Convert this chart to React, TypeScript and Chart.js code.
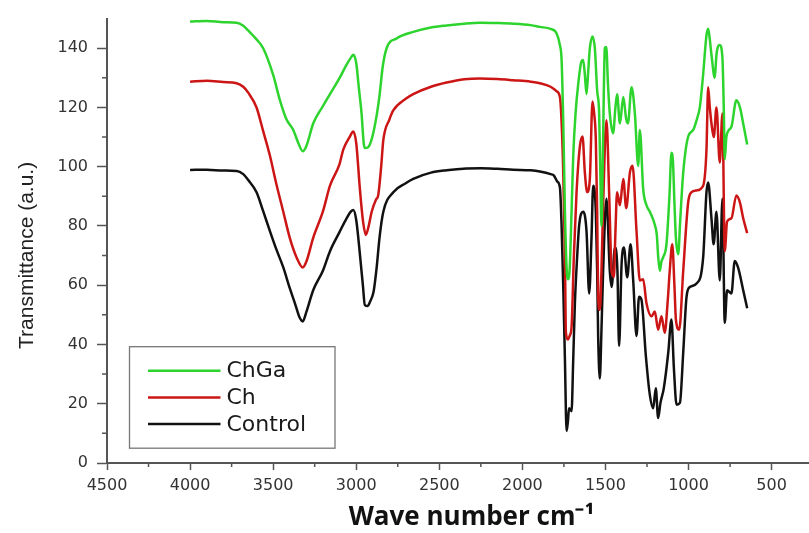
import { useEffect, useRef } from 'react';
import { Chart, registerables } from 'chart.js';

Chart.register(...registerables);

const seriesLabels = ['ChGa', 'Ch', 'Control'];
const seriesColors = ['rgb(46,212,46)', 'rgb(204,22,22)', '#111111'];

const xTickValues = [4500, 4000, 3500, 3000, 2500, 2000, 1500, 1000, 500];
const xMinorTickValues = [4250, 3750, 3250, 2750, 2250, 1750, 1250, 750];
const yMinorTickValues = [10, 30, 50, 70, 90, 110, 130];

const chgaWavenumber = [
  4000, 3900, 3800, 3720, 3680, 3650, 3600, 3560, 3500, 3459, 3420,
  3379, 3345, 3322, 3300, 3259, 3200, 3158, 3100, 3058, 3030,
  3018, 3000, 2985, 2968, 2955, 2948, 2930, 2918, 2895, 2875,
  2860, 2840, 2817, 2757, 2657, 2550, 2456, 2350, 2256, 2150,
  2055, 1950, 1895, 1830, 1794, 1774, 1764, 1754, 1744, 1734,
  1725, 1715, 1704, 1694, 1680, 1664, 1644, 1634, 1624, 1614,
  1604, 1594, 1578, 1564, 1550, 1538, 1530, 1524, 1518, 1510,
  1504, 1495, 1485, 1474, 1454, 1440, 1430, 1413, 1393, 1375,
  1365, 1343, 1323, 1303, 1293, 1273, 1253, 1233, 1203, 1191,
  1183, 1173, 1163, 1153, 1133, 1115, 1103, 1094, 1085, 1076,
  1062, 1050, 1032, 1002, 972, 950, 932, 912, 892, 882,
  872, 862, 842, 832, 812, 796, 788, 782, 772, 742,
  712, 691, 671, 647,
];
const chgaTransmittance = [
  149, 149.2, 148.8, 148.6, 147.6, 146, 143, 140, 131, 122.4, 116,
  112.4, 107.5, 105.2, 107, 114.6, 120.5, 124.5, 130, 134.5, 137,
  137.8, 135, 127, 118, 108, 106.3, 106.5, 107.5, 112, 118,
  124, 134, 140, 143.3, 145.5, 147, 147.7, 148.3, 148.6, 148.5,
  148.3, 147.8, 147.2, 146.5, 145, 141, 136, 115, 85, 66,
  62, 66, 85, 103.6, 118, 127.9, 135.6, 136, 131, 124.5,
  132, 140, 144, 140, 125.7, 118, 95, 80, 95, 125,
  140, 140.4, 128, 118, 111.3, 120, 124.5, 114.6, 123.5, 116,
  114.6, 126.8, 118, 100.3, 112.4, 92.5, 87, 84.8, 80.4, 77,
  70, 64.9, 68, 69.4, 73.8, 90, 104.7, 102, 88, 76,
  70.5, 82, 98, 110.2, 112.4, 116, 120.1, 131.2, 144.4, 146.6,
  143, 137.8, 130, 137.8, 141.1, 136.7, 120, 102.5, 110.2, 113.5,
  122.4, 120.1, 114.6, 107.5,
];

const chWavenumber = [
  4000, 3900, 3800, 3720, 3680, 3650, 3600, 3560, 3519, 3480, 3439,
  3400, 3359, 3322, 3300, 3259, 3200, 3158, 3100, 3078, 3040,
  3018, 3000, 2978, 2960, 2942, 2925, 2907, 2880, 2868, 2850,
  2837, 2800, 2777, 2700, 2657, 2550, 2456, 2350, 2256, 2150,
  2055, 1950, 1895, 1830, 1794, 1774, 1764, 1754, 1744, 1738,
  1725, 1715, 1704, 1690, 1674, 1654, 1638, 1624, 1610, 1594,
  1578, 1568, 1558, 1550, 1544, 1534, 1524, 1514, 1494, 1478,
  1463, 1449, 1440, 1430, 1413, 1393, 1375, 1353, 1337, 1313,
  1293, 1273, 1253, 1223, 1203, 1183, 1163, 1143, 1125, 1113,
  1098, 1085, 1076, 1056, 1032, 1002, 982, 952, 912, 892,
  882, 872, 862, 848, 832, 812, 796, 782, 768, 742,
  712, 691, 671, 647,
];
const chTransmittance = [
  128.7, 129, 128.6, 128.2, 127, 125, 120, 112, 103.6, 94, 84.8,
  76, 69.4, 66, 68, 76, 85, 93.6, 101, 105.8, 110,
  111.9, 108, 92.5, 82, 77, 80, 84.8, 89, 90.3, 100,
  109, 116, 119, 123, 124.5, 127, 128.4, 129.5, 129.8, 129.6,
  129.2, 128.7, 128.2, 127, 125.5, 123.5, 115, 98, 70, 44,
  41.7, 43, 46, 70, 91.4, 106.9, 110.2, 98, 91.4, 95.9,
  122, 118, 109.1, 85, 56.1, 51.7, 65, 87, 115.7, 91.4,
  64.9, 62.8, 78, 91.4, 87, 95.9, 86, 98, 100.3, 78.2,
  61.6, 62, 53.9, 49.5, 51.1, 45, 49.5, 44, 55, 64.9,
  73.8, 60, 48.4, 45, 64.9, 88.1, 91.4, 92, 93.6, 105.8,
  126.8, 120, 114.6, 110, 120, 101.4, 118, 71.5, 81.5, 82.6,
  90.3, 88, 82.6, 77.6,
];

const controlWavenumber = [
  4000, 3900, 3800, 3720, 3680, 3650, 3600, 3560, 3519, 3480, 3439,
  3400, 3369, 3340, 3322, 3300, 3259, 3200, 3158, 3100, 3058,
  3030, 3018, 3000, 2978, 2960, 2948, 2930, 2918, 2895, 2877,
  2860, 2837, 2777, 2700, 2657, 2550, 2456, 2336, 2250, 2150,
  2055, 1950, 1895, 1830, 1810, 1790, 1774, 1764, 1754, 1744,
  1734, 1726, 1719, 1704, 1694, 1684, 1670, 1658, 1634, 1614,
  1598, 1584, 1574, 1558, 1550, 1544, 1534, 1524, 1514, 1494,
  1474, 1463, 1443, 1428, 1418, 1403, 1389, 1369, 1349, 1333,
  1313, 1298, 1283, 1257, 1233, 1213, 1197, 1183, 1169, 1149,
  1122, 1103, 1088, 1072, 1052, 1032, 1012, 992, 952, 912,
  892, 882, 862, 849, 832, 812, 796, 782, 768, 742,
  722, 702, 671, 647,
];
const controlTransmittance = [
  98.9, 99, 98.7, 98.6, 97.5, 95.5, 91.4, 85, 78.2, 72, 66,
  59, 53.9, 49, 47.8, 51, 58.3, 65, 71.5, 78, 82.6,
  85, 85.4, 82, 70.5, 60, 53.3, 53, 54.3, 58, 66,
  76, 84.8, 91.4, 94.5, 95.9, 98, 98.8, 99.4, 99.5, 99.3,
  99, 98.8, 98.4, 97.5, 97, 95, 93, 80, 59.4, 35,
  10.8, 14, 18.5, 17.5, 35, 53.9, 70, 80.4, 84.8, 78.2,
  57.2, 76, 93.6, 84.8, 65, 42.9, 28.5, 45, 64.9, 89.2,
  64.9, 59.4, 72.7, 64.9, 39.5, 67.1, 72.7, 62.7, 73.8, 61.6,
  42.9, 56.1, 55, 36.2, 23, 18.5, 25.2, 15.2, 20.3, 25.2,
  37.3, 48.4, 31.8, 19.7, 20.3, 37.3, 56.1, 59.4, 60.6, 69.4,
  91.4, 94.7, 82.6, 73.8, 84.8, 61.6, 89.2, 47.3, 58.3, 57.2,
  68.2, 66, 58.3, 52.2,
];

const toPoints = (xs: number[], ys: number[]) => xs.map((x, i) => ({ x, y: ys[i] }));

const minorTicksPlugin = {
  id: 'minorTicks',
  afterDraw(chart: any) {
    const { ctx, scales } = chart;
    const xs = scales.x;
    const ys = scales.y;
    ctx.save();
    ctx.strokeStyle = '#555';
    ctx.lineWidth = 1.5;
    ctx.beginPath();
    for (const v of xMinorTickValues) {
      const px = xs.getPixelForValue(v);
      ctx.moveTo(px, ys.bottom);
      ctx.lineTo(px, ys.bottom + 4);
    }
    for (const v of yMinorTickValues) {
      const py = ys.getPixelForValue(v);
      ctx.moveTo(xs.left, py);
      ctx.lineTo(xs.left - 5, py);
    }
    ctx.stroke();
    ctx.restore();
  },
};

const boxLegendPlugin = {
  id: 'boxLegend',
  afterDraw(chart: any) {
    const { ctx, chartArea } = chart;
    const left = chartArea.left + 22.5;
    const top = chartArea.bottom - 116.3;
    const width = 205.5;
    const height = 101.5;
    ctx.save();
    ctx.fillStyle = '#ffffff';
    ctx.fillRect(left, top, width, height);
    ctx.strokeStyle = '#777';
    ctx.lineWidth = 1.3;
    ctx.strokeRect(left, top, width, height);
    ctx.font = '22px "DejaVu Sans"';
    ctx.textBaseline = 'middle';
    ctx.textAlign = 'left';
    chart.data.datasets.forEach((ds: any, i: number) => {
      const y = top + 24 + i * 26.7;
      ctx.strokeStyle = ds.borderColor;
      ctx.lineWidth = 2.5;
      ctx.beginPath();
      ctx.moveTo(left + 18.5, y);
      ctx.lineTo(left + 91, y);
      ctx.stroke();
      ctx.fillStyle = '#1a1a1a';
      ctx.fillText(ds.label, left + 97, y + 1);
    });
    ctx.restore();
  },
};

export default function App() {
  const canvasRef = useRef<HTMLCanvasElement | null>(null);

  useEffect(() => {
    if (!canvasRef.current) return;
    const xsList = [chgaWavenumber, chWavenumber, controlWavenumber];
    const ysList = [chgaTransmittance, chTransmittance, controlTransmittance];
    const chart = new Chart(canvasRef.current, {
      type: 'line',
      data: {
        datasets: seriesLabels.map((label, i) => ({
          label,
          data: toPoints(xsList[i], ysList[i]),
          borderColor: seriesColors[i],
          backgroundColor: seriesColors[i],
          borderWidth: 2.5,
          pointRadius: 0,
          tension: 0.4,
          cubicInterpolationMode: 'monotone' as const,
          borderJoinStyle: 'round' as const,
          fill: false,
        })),
      },
      options: {
        responsive: false,
        animation: false,
        layout: { padding: { top: 10, left: 0, right: 0, bottom: 0 } },
        plugins: {
          legend: { display: false },
          tooltip: { enabled: false },
        },
        scales: {
          x: {
            type: 'linear',
            reverse: true,
            min: 275,
            max: 4500,
            afterBuildTicks: (scale: any) => {
              scale.ticks = xTickValues.map((value) => ({ value }));
            },
            afterFit: (scale: any) => {
              scale.height = 70;
              scale.paddingLeft = 0;
              scale.paddingRight = 0;
            },
            grid: {
              display: true,
              drawOnChartArea: false,
              drawTicks: true,
              tickLength: 7,
              tickColor: '#555',
              tickWidth: 1.5,
            },
            border: { display: true, color: '#555', width: 2 },
            ticks: {
              padding: 6,
              autoSkip: false,
              maxRotation: 0,
              color: '#333',
              font: { family: '"DejaVu Sans"', size: 16 },
              callback: (v: any) => String(v),
            },
            title: {
              display: true,
              text: '    Wave number cm\u207B\u00B9',
              color: '#111',
              font: { family: '"Open Sans"', size: 26, weight: 'bold' },
              padding: { top: 0, bottom: 0 },
            },
          },
          y: {
            type: 'linear',
            min: 0,
            max: 150,
            afterFit: (scale: any) => {
              scale.width = 107;
            },
            grid: {
              display: true,
              drawOnChartArea: false,
              drawTicks: true,
              tickLength: 10,
              tickColor: '#555',
              tickWidth: 1.5,
            },
            border: { display: true, color: '#555', width: 2 },
            ticks: {
              stepSize: 20,
              includeBounds: false,
              padding: 9,
              color: '#333',
              font: { family: '"DejaVu Sans"', size: 16 },
              callback: (v: any) => String(v),
            },
            title: {
              display: true,
              text: 'Transmittance (a.u.)     ',
              color: '#222',
              font: { family: '"Liberation Sans"', size: 21 },
              padding: { top: 15, bottom: 0 },
            },
          },
        },
      },
      plugins: [minorTicksPlugin, boxLegendPlugin],
    });
    return () => chart.destroy();
  }, []);

  return (
    <div style={{ position: 'fixed', left: 0, top: 0, width: 809, height: 533, background: '#fff' }}>
      <canvas ref={canvasRef} width={809} height={533} style={{ display: 'block' }} />
    </div>
  );
}
